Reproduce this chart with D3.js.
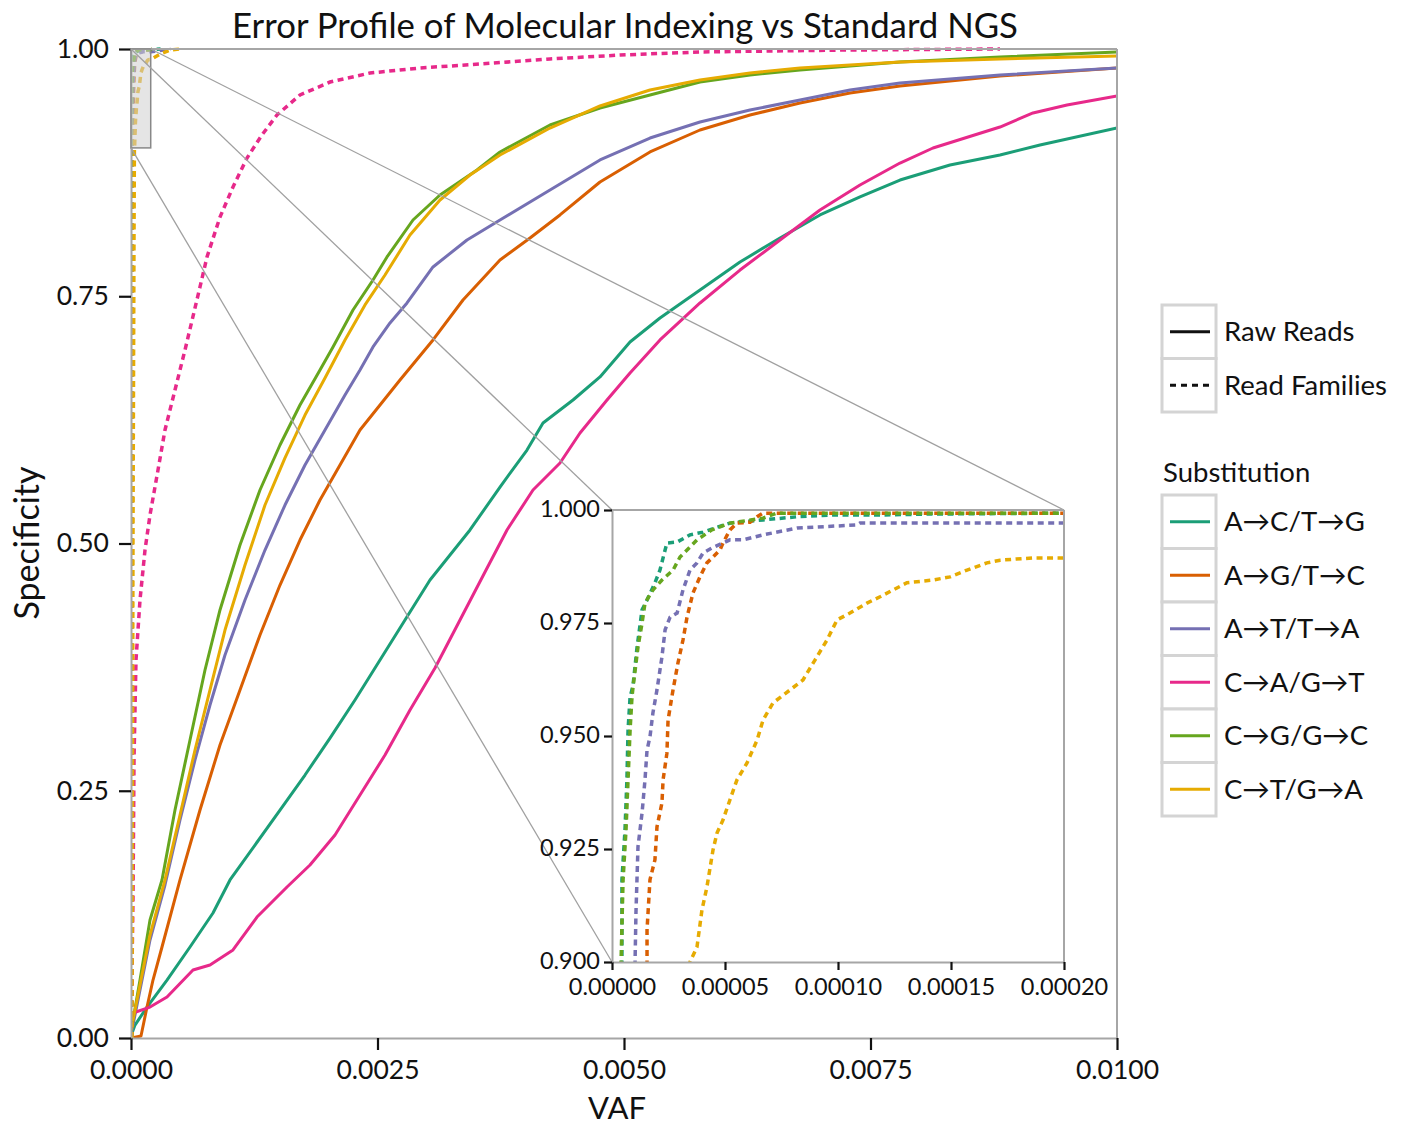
<!DOCTYPE html>
<html><head><meta charset="utf-8">
<script src="https://cdn.jsdelivr.net/npm/d3@7"></script>
<style>
body{margin:0;background:#fff}
svg{display:block}
text{font-family:Lato,"Open Sans",sans-serif;fill:#111}
</style>
</head><body>
<svg id="chart" width="1417" height="1125"></svg>
<script>
// ---------------- DATA ----------------
const categories = ["A→C/T→G","A→G/T→C","A→T/T→A","C→A/G→T","C→G/G→C","C→T/G→A"];
const colors = ["#1b9e77","#d95f02","#7570b3","#e7298a","#66a61e","#e6ab02"];
const readTypes = ["Raw Reads","Read Families"];
const mainXTicks = [0,0.0025,0.005,0.0075,0.01];
const mainYTicks = [0,0.25,0.5,0.75,1];
const insetXTicks = [0,0.00005,0.0001,0.00015,0.0002];
const insetYTicks = [0.9,0.925,0.95,0.975,1];

// Raw reads: [VAF, specificity]
const rawACTG = [[0,0.0020],[0.0000406,0.0131],[0.0001623,0.0313],[0.0003651,0.0586],[0.0005984,0.0920],[0.0008316,0.1264],[0.0010041,0.1598],[0.0012576,0.1951],[0.0015112,0.2305],[0.0017647,0.2659],[0.0020183,0.3033],[0.0022718,0.3418],[0.0025254,0.3822],[0.0027789,0.4226],[0.0030325,0.4631],[0.0032353,0.4884],[0.0034381,0.5137],[0.0037424,0.5571],[0.0040162,0.5945],[0.0041785,0.6218],[0.0044828,0.6451],[0.0047566,0.6684],[0.0050609,0.7037],[0.0053651,0.7280],[0.0057708,0.7563],[0.0061765,0.7846],[0.0065822,0.8089],[0.0069878,0.8322],[0.0073935,0.8504],[0.0077992,0.8675],[0.0083063,0.8827],[0.0088134,0.8928],[0.0092191,0.9029],[0.01,0.9201]];
const rawAGTC = [[0,0],[0.0001014,0.0020],[0.0001623,0.0313],[0.0002231,0.0586],[0.0003144,0.0920],[0.0004970,0.1598],[0.0006998,0.2305],[0.0009026,0.2963],[0.0011055,0.3519],[0.0013083,0.4075],[0.0015112,0.4580],[0.0017140,0.5035],[0.0019168,0.5440],[0.0021197,0.5794],[0.0023225,0.6148],[0.0025254,0.6400],[0.0027282,0.6653],[0.0030629,0.7058],[0.0033671,0.7462],[0.0037424,0.7867],[0.0040467,0.8089],[0.0043509,0.8322],[0.0047566,0.8655],[0.0052637,0.8959],[0.0057708,0.9181],[0.0062779,0.9333],[0.0067850,0.9454],[0.0072921,0.9555],[0.0077992,0.9626],[0.0088134,0.9727],[0.01,0.9808]];
const rawATTA = [[0,0.0030],[0.0000913,0.0485],[0.0001927,0.0991],[0.0003448,0.1547],[0.0004970,0.2204],[0.0006491,0.2811],[0.0008012,0.3367],[0.0009533,0.3873],[0.0011562,0.4429],[0.0013590,0.4934],[0.0015619,0.5389],[0.0017647,0.5794],[0.0019675,0.6148],[0.0021704,0.6501],[0.0023225,0.6754],[0.0024544,0.6987],[0.0026268,0.7230],[0.0027992,0.7432],[0.0030629,0.7796],[0.0034077,0.8069],[0.0037424,0.8271],[0.0042495,0.8574],[0.0047566,0.8878],[0.0052637,0.9100],[0.0057708,0.9262],[0.0062779,0.9383],[0.0067850,0.9484],[0.0072921,0.9585],[0.0077992,0.9656],[0.0088134,0.9737],[0.01,0.9808]];
const rawCAGT = [[0,0.0131],[0.0000203,0.0253],[0.0001927,0.0313],[0.0003651,0.0415],[0.0006288,0.0688],[0.0008012,0.0738],[0.0010345,0.0890],[0.0012779,0.1223],[0.0015822,0.1527],[0.0018154,0.1749],[0.0020690,0.2053],[0.0023225,0.2457],[0.0025761,0.2861],[0.0028296,0.3316],[0.0030832,0.3741],[0.0033367,0.4226],[0.0035903,0.4712],[0.0038134,0.5137],[0.0040771,0.5541],[0.0043509,0.5814],[0.0045538,0.6117],[0.0048276,0.6451],[0.0050609,0.6724],[0.0053651,0.7058],[0.0057708,0.7432],[0.0061765,0.7765],[0.0065822,0.8069],[0.0069878,0.8372],[0.0073935,0.8625],[0.0077992,0.8847],[0.0081339,0.8999],[0.0088134,0.9211],[0.0091481,0.9353],[0.0094929,0.9434],[0.01,0.9525]];
const rawCGGC = [[0,0.0061],[0.0000913,0.0586],[0.0001927,0.1193],[0.0003144,0.1598],[0.0004462,0.2305],[0.0005984,0.3013],[0.0007505,0.3721],[0.0009026,0.4328],[0.0011055,0.4985],[0.0013083,0.5541],[0.0015112,0.5996],[0.0017140,0.6400],[0.0019168,0.6754],[0.0020487,0.6987],[0.0022515,0.7361],[0.0024544,0.7664],[0.0025963,0.7897],[0.0028600,0.8271],[0.0031339,0.8524],[0.0035091,0.8777],[0.0037424,0.8959],[0.0042495,0.9232],[0.0047566,0.9403],[0.0052637,0.9535],[0.0057708,0.9666],[0.0062779,0.9737],[0.0067850,0.9788],[0.0072921,0.9828],[0.0077992,0.9869],[0.0088134,0.9919],[0.01,0.9970]];
const rawCTGA = [[0,0.0081],[0.0000913,0.0536],[0.0001927,0.1041],[0.0003448,0.1598],[0.0004970,0.2255],[0.0006491,0.2912],[0.0008012,0.3519],[0.0009533,0.4125],[0.0011562,0.4783],[0.0013590,0.5389],[0.0015619,0.5865],[0.0017647,0.6299],[0.0019675,0.6673],[0.0021704,0.7058],[0.0023732,0.7412],[0.0025761,0.7715],[0.0028296,0.8119],[0.0031339,0.8473],[0.0034381,0.8726],[0.0037424,0.8928],[0.0042495,0.9201],[0.0047566,0.9424],[0.0052637,0.9585],[0.0057708,0.9687],[0.0062779,0.9757],[0.0067850,0.9808],[0.0072921,0.9838],[0.0077992,0.9869],[0.0088134,0.9899],[0.01,0.9929]];

// Read families: [VAF, specificity]
const famACTG = [[0.000002,0],[0.0000044,0.900],[0.0000044,0.9182],[0.00000575,0.9292],[0.0000066,0.9403],[0.0000071,0.9513],[0.0000080,0.9586],[0.0000093,0.9612],[0.0000111,0.9697],[0.0000133,0.9779],[0.0000155,0.9801],[0.0000190,0.9839],[0.0000212,0.9867],[0.0000243,0.9927],[0.0000288,0.9929],[0.0000345,0.9945],[0.0000403,0.9951],[0.0000465,0.9962],[0.0000522,0.9971],[0.0000668,0.9978],[0.0000819,0.9985],[0.0000978,0.9989],[0.000120,0.9989],[0.0001394,0.9991],[0.0001996,0.9993],[0.0003,1.0]];
const famAGTC = [[0.000010,0],[0.0000155,0.900],[0.0000155,0.9071],[0.0000168,0.9182],[0.0000190,0.9226],[0.0000199,0.9299],[0.0000221,0.9352],[0.0000226,0.9403],[0.0000243,0.9462],[0.0000248,0.9535],[0.0000270,0.9602],[0.0000292,0.9662],[0.0000314,0.9712],[0.0000332,0.9763],[0.0000358,0.9816],[0.0000389,0.9852],[0.0000420,0.9883],[0.0000447,0.9896],[0.0000478,0.9912],[0.0000491,0.9927],[0.0000522,0.9956],[0.0000553,0.9971],[0.0000611,0.9973],[0.0000642,0.9985],[0.0000668,0.9993],[0.0001996,0.9993],[0.00025,1.0]];
const famATTA = [[0.000005,0],[0.0000102,0.900],[0.0000106,0.9109],[0.0000115,0.9255],[0.0000133,0.9330],[0.0000146,0.9403],[0.0000155,0.9469],[0.0000168,0.9498],[0.0000181,0.9551],[0.0000199,0.9602],[0.0000221,0.9675],[0.0000235,0.9735],[0.0000257,0.9763],[0.0000288,0.9772],[0.0000314,0.9823],[0.0000345,0.9867],[0.0000376,0.9883],[0.0000403,0.9905],[0.0000442,0.9916],[0.0000522,0.9934],[0.0000580,0.9934],[0.0000668,0.9945],[0.0000819,0.9960],[0.0001084,0.9967],[0.0001097,0.9971],[0.0001996,0.9971],[0.0004,1.0]];
const famCAGT = [[0,0],[0.0000203,0.1395],[0.0000304,0.2811],[0.0000507,0.3822],[0.0000913,0.4429],[0.0001420,0.4934],[0.0001927,0.5288],[0.0002738,0.5743],[0.0003448,0.6148],[0.0004462,0.6552],[0.0005477,0.6957],[0.0006998,0.7594],[0.0007708,0.7897],[0.0009026,0.8301],[0.0010345,0.8605],[0.0011765,0.8898],[0.0013286,0.9131],[0.0014807,0.9333],[0.0017140,0.9535],[0.0020183,0.9666],[0.0024240,0.9757],[0.0029310,0.9808],[0.0035396,0.9848],[0.0042495,0.9899],[0.0049594,0.9939],[0.0057708,0.9970],[0.0072921,0.9990],[0.0088134,1.0]];
const famCGGC = [[0.000002,0],[0.0000040,0.900],[0.0000049,0.9182],[0.0000062,0.9292],[0.0000071,0.9403],[0.0000080,0.9513],[0.00000885,0.9586],[0.0000093,0.9608],[0.0000115,0.9697],[0.0000133,0.9750],[0.0000146,0.9794],[0.0000181,0.9823],[0.0000221,0.9845],[0.0000270,0.9867],[0.0000301,0.9896],[0.0000345,0.9918],[0.0000376,0.9934],[0.0000442,0.9956],[0.0000522,0.9971],[0.0000668,0.9982],[0.0000730,0.9993],[0.0001996,0.9993],[0.00025,1.0]];
const famCTGA = [[0.000010,0],[0.000020,0.5],[0.000030,0.8],[0.0000345,0.9000],[0.0000376,0.9033],[0.0000398,0.9115],[0.0000420,0.9166],[0.0000447,0.9248],[0.0000465,0.9286],[0.0000491,0.9314],[0.0000522,0.9359],[0.0000553,0.9403],[0.0000597,0.9440],[0.0000642,0.9491],[0.0000668,0.9535],[0.0000712,0.9573],[0.0000788,0.9602],[0.0000845,0.9624],[0.0000898,0.9668],[0.0000951,0.9712],[0.0000996,0.9757],[0.0001053,0.9772],[0.0001128,0.9794],[0.0001186,0.9808],[0.0001243,0.9823],[0.0001305,0.9839],[0.0001420,0.9845],[0.0001496,0.9852],[0.0001571,0.9867],[0.0001659,0.9883],[0.0001717,0.9889],[0.0001863,0.9894],[0.0001996,0.9894],[0.0003,0.995],[0.0004,0.999],[0.0005,1.0]];

const rawSeries = [rawACTG, rawAGTC, rawATTA, rawCAGT, rawCGGC, rawCTGA];
const famSeries = [famACTG, famAGTC, famATTA, famCAGT, famCGGC, famCTGA];

// ---------------- DRAW ----------------
const svg = d3.select("#chart");
const GRAY = "#a6a6a6";
const DASH = "6,4.5";
const FONT = "Lato, 'Open Sans', sans-serif";

const x = d3.scaleLinear().domain([0,0.01]).range([131,1117]);
const y = d3.scaleLinear().domain([0,1]).range([1038,49]);
const xi = d3.scaleLinear().domain([0,0.0002]).range([612,1064]);
const yi = d3.scaleLinear().domain([0.9,1.0]).range([962,510]);

const defs = svg.append("defs");
defs.append("clipPath").attr("id","clipMain").append("rect")
  .attr("x",x(0)).attr("y",y(1)-3).attr("width",x(0.01)-x(0)).attr("height",y(0)-y(1)+3);
defs.append("clipPath").attr("id","clipInset").append("rect")
  .attr("x",xi(0)).attr("y",yi(1)-3).attr("width",xi(0.0002)-xi(0)).attr("height",yi(0.9)-yi(1)+3);

// Title
svg.append("text").attr("class","title").attr("x",625).attr("y",38)
  .attr("text-anchor","middle").style("font-size","31px")
  .text("Error Profile of Molecular Indexing vs Standard NGS");

function styleAxis(g, fontSize){
  g.select(".domain").attr("stroke",GRAY).attr("stroke-width",2);
  g.selectAll(".tick line").attr("stroke","#111").attr("stroke-width",2.2);
  g.selectAll(".tick text").style("font-size",fontSize).attr("fill","#111").style("font-family",FONT);
}

const gMain = svg.append("g").attr("clip-path","url(#clipMain)");

// main frame: top & right
svg.append("line").attr("x1",x(0)).attr("x2",x(0.01)).attr("y1",y(1)).attr("y2",y(1)).attr("stroke",GRAY).attr("stroke-width",2);
svg.append("line").attr("x1",x(0.01)).attr("x2",x(0.01)).attr("y1",y(1)).attr("y2",y(0)).attr("stroke",GRAY).attr("stroke-width",2);

const gx = svg.append("g").attr("transform",`translate(0,${y(0)})`)
  .call(d3.axisBottom(x).tickValues(mainXTicks).tickFormat(d3.format(".4f")).tickSize(12).tickSizeOuter(0).tickPadding(10));
styleAxis(gx,"26.5px");
const gy = svg.append("g").attr("transform",`translate(${x(0)},0)`)
  .call(d3.axisLeft(y).tickValues(mainYTicks).tickFormat(d3.format(".2f")).tickSize(12).tickSizeOuter(0).tickPadding(10));
styleAxis(gy,"26.5px");

svg.append("text").attr("x",617).attr("y",1119).attr("text-anchor","middle").style("font-size","31px").text("VAF");
svg.append("text").attr("transform","translate(39,543) rotate(-90)").attr("text-anchor","middle").style("font-size","34px").text("Specificity");

function drawLines(g, xs, ys){
  const line = d3.line().x(d=>xs(d[0])).y(d=>ys(d[1]));
  rawSeries.forEach((s,i)=>{
    g.append("path").datum(s).attr("d",line).attr("fill","none")
      .attr("stroke",colors[i]).attr("stroke-width",3).attr("stroke-linejoin","round");
  });
  famSeries.forEach((s,i)=>{
    g.append("path").datum(s).attr("d",line).attr("fill","none")
      .attr("stroke",colors[i]).attr("stroke-width",3.5).attr("stroke-dasharray",DASH);
  });
}
drawLines(gMain, x, y);

// zoom box
svg.append("rect").attr("x",x(0)).attr("y",y(1)).attr("width",x(0.0002)-x(0)).attr("height",y(0.9)-y(1))
  .attr("fill","#d0d0d0").attr("fill-opacity",0.55).attr("stroke","#888").attr("stroke-width",1.5);

// connector lines
const conn = [[[0,1],[0,1]],[[0.0002,1],[0.0002,1]],[[0,0.9],[0,0.9]]];
conn.forEach(c=>{
  svg.append("line").attr("x1",x(c[0][0])).attr("y1",y(c[0][1])).attr("x2",xi(c[1][0])).attr("y2",yi(c[1][1]))
    .attr("stroke","#a0a0a0").attr("stroke-width",1.3);
});

// inset
svg.append("rect").attr("x",xi(0)).attr("y",yi(1)).attr("width",xi(0.0002)-xi(0)).attr("height",yi(0.9)-yi(1)).attr("fill","#fff");
const gIn = svg.append("g").attr("clip-path","url(#clipInset)");
drawLines(gIn, xi, yi);
svg.append("line").attr("x1",xi(0)).attr("x2",xi(0.0002)).attr("y1",yi(1)).attr("y2",yi(1)).attr("stroke",GRAY).attr("stroke-width",2);
svg.append("line").attr("x1",xi(0.0002)).attr("x2",xi(0.0002)).attr("y1",yi(1)).attr("y2",yi(0.9)).attr("stroke",GRAY).attr("stroke-width",2);
const gxi = svg.append("g").attr("transform",`translate(0,${yi(0.9)})`)
  .call(d3.axisBottom(xi).tickValues(insetXTicks).tickFormat(d3.format(".5f")).tickSize(8).tickSizeOuter(0).tickPadding(8));
styleAxis(gxi,"23.5px");
const gyi = svg.append("g").attr("transform",`translate(${xi(0)},0)`)
  .call(d3.axisLeft(yi).tickValues(insetYTicks).tickFormat(d3.format(".3f")).tickSize(8).tickSizeOuter(0).tickPadding(4));
styleAxis(gyi,"23.5px");
gyi.selectAll(".tick text").attr("dy","0.28em");

// legends
const LBX = 1162, LBW = 54, CELL = 53.5, LFS = "27.5px";
const leg1 = svg.append("g");
readTypes.forEach((t,i)=>{
  const cy = 305 + i*CELL;
  leg1.append("rect").attr("x",LBX).attr("y",cy).attr("width",LBW).attr("height",CELL)
    .attr("fill","#fff").attr("stroke","#d4d4d4").attr("stroke-width",3);
  leg1.append("line").attr("x1",LBX+8).attr("x2",LBX+LBW-6).attr("y1",cy+CELL/2).attr("y2",cy+CELL/2)
    .attr("stroke","#111").attr("stroke-width",3).attr("stroke-dasharray", i===1?"6,5":null);
  leg1.append("text").attr("x",1224).attr("y",cy+CELL/2).attr("dy","0.35em").style("font-size",LFS).text(t);
});
svg.append("text").attr("x",1163).attr("y",472).attr("dy","0.35em").style("font-size",LFS).text("Substitution");
const leg2 = svg.append("g");
categories.forEach((t,i)=>{
  const cy = 495 + i*CELL;
  leg2.append("rect").attr("x",LBX).attr("y",cy).attr("width",LBW).attr("height",CELL)
    .attr("fill","#fff").attr("stroke","#d4d4d4").attr("stroke-width",3);
  leg2.append("line").attr("x1",LBX+8).attr("x2",LBX+LBW-6).attr("y1",cy+CELL/2).attr("y2",cy+CELL/2)
    .attr("stroke",colors[i]).attr("stroke-width",3);
  leg2.append("text").attr("x",1224).attr("y",cy+CELL/2).attr("dy","0.35em").style("font-size",LFS).text(t);
});

// fit title width to reference
const tt = svg.select(".title");
const w = tt.node().getComputedTextLength();
tt.style("font-size", (31*786/w).toFixed(2)+"px");
</script>
</body></html>
